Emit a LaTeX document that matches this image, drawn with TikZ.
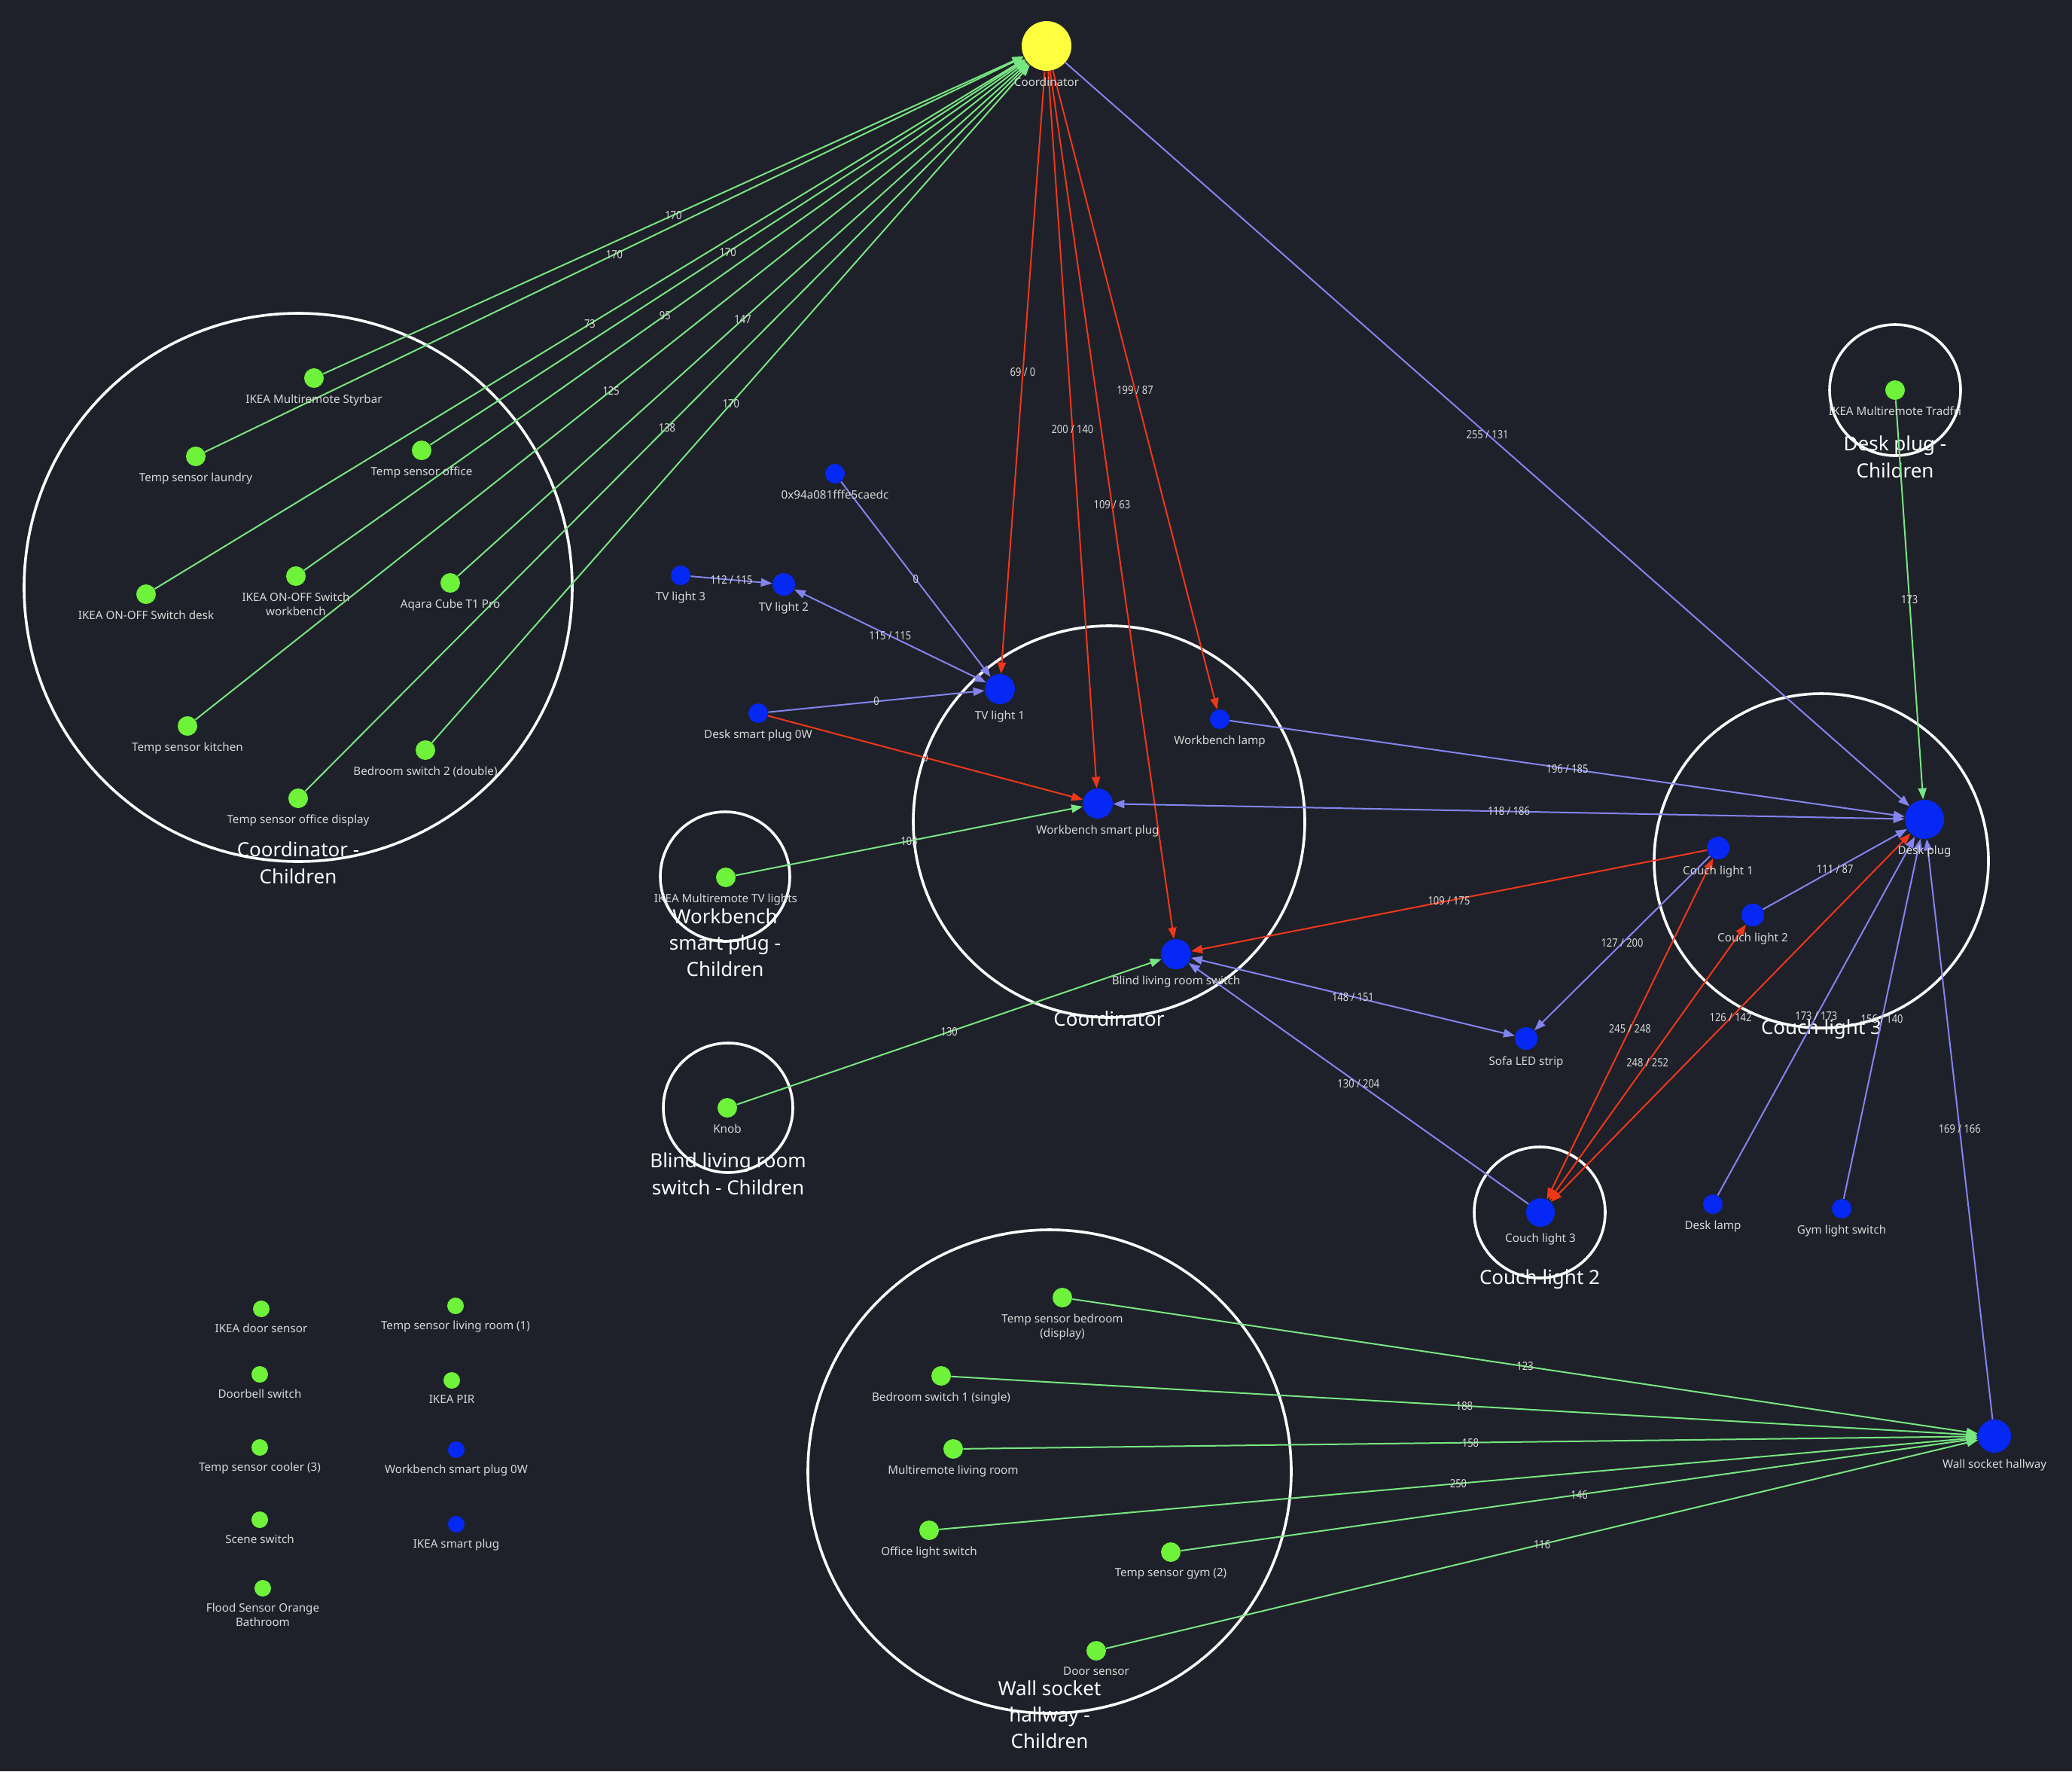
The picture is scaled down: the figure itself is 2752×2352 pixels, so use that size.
\documentclass[tikz,border=0pt]{standalone}
\usepackage{fontspec}
\setmainfont{Noto Sans}
\newfontfamily\narrowfamily[FakeStretch=0.85]{Noto Sans}
\usetikzlibrary{arrows.meta}

\definecolor{zbg}{HTML}{1E2129}
\definecolor{zgreen}{HTML}{6EF23A}
\definecolor{zblue}{HTML}{0528F5}
\definecolor{zyellow}{HTML}{FFFF40}
\definecolor{zgline}{HTML}{78E682}
\definecolor{zrline}{HTML}{F03719}
\definecolor{zbline}{HTML}{8484F0}
\definecolor{ztext}{HTML}{D8D8D8}

\newcommand\devfont{\fontsize{7.6}{9.6}\selectfont}
\newcommand\grpfont{\fontsize{13}{17.7}\selectfont}
\newcommand\lqifont{\narrowfamily\fontsize{7.6}{9}\selectfont}

\pgfdeclarelayer{back}
\pgfdeclarelayer{mid}
\pgfsetlayers{back,mid,main}

\begin{document}
\begin{tikzpicture}[x=0.5pt,y=-0.5pt,
	>={Triangle[length=7.5pt,width=5.5pt]},
	label distance=4pt,
	dev/.style={circle,inner sep=0,minimum size=13pt},
	gdev/.style={dev,fill=zgreen},
	bdev/.style={dev,fill=zblue},
	every label/.style={text=ztext,font=\devfont,inner sep=0,align=center},
	grp/.style={circle,draw=white,line width=1.8pt,inner sep=0},
	grplabel/.style={text=white,font=\grpfont,align=center,inner sep=0},
	gline/.style={draw=zgline,line width=1pt},
	rline/.style={draw=zrline,line width=1pt},
	bline/.style={draw=zbline,line width=1pt},
	lqi/.style={midway,text=ztext,font=\lqifont,inner sep=0}]
	
	\useasboundingbox (0,0) rectangle (2752,2352);
	
	% devices
	\node[circle,fill=zyellow,inner sep=0,minimum size=33pt,label=below:{Coordinator}] (coord) at (1390,61) {};
	
	\node[gdev,label=below:{IKEA Multiremote Styrbar}] (styrbar) at (417,502) {};
	\node[gdev,label=below:{Temp sensor laundry}] (tslaundry) at (260,606) {};
	\node[gdev,label=below:{Temp sensor office}] (tsoffice) at (560,598) {};
	\node[gdev,label=below:{IKEA ON-OFF Switch desk}] (swdesk) at (194,789) {};
	\node[gdev,label=below:{IKEA ON-OFF Switch\\workbench}] (swbench) at (393,765) {};
	\node[gdev,label=below:{Aqara Cube T1 Pro}] (aqara) at (598,774) {};
	\node[gdev,label=below:{Temp sensor kitchen}] (tskitchen) at (249,964) {};
	\node[gdev,label=below:{Bedroom switch 2 (double)}] (bedsw2) at (565,996) {};
	\node[gdev,label=below:{Temp sensor office display}] (tsofficedisp) at (396,1060) {};
	
	\node[bdev,label=below:{0x94a081fffe5caedc}] (unknown) at (1109,629) {};
	\node[bdev,label=below:{TV light 3}] (tv3) at (904,764) {};
	\node[bdev,minimum size=15pt,label=below:{TV light 2}] (tv2) at (1041,776) {};
	\node[bdev,minimum size=20pt,label=below:{TV light 1}] (tv1) at (1328,915) {};
	\node[bdev,label=below:{Desk smart plug 0W}] (dsp0w) at (1007,947) {};
	\node[bdev,label=below:{Workbench lamp}] (wblamp) at (1620,955) {};
	\node[bdev,minimum size=20pt,label=below:{Workbench smart plug}] (wbplug) at (1458,1067) {};
	\node[bdev,minimum size=20pt,label=below:{Blind living room switch}] (blind) at (1562,1267) {};
	\node[gdev,label=below:{IKEA Multiremote TV lights}] (tvremote) at (964,1165) {};
	\node[gdev,label=below:{Knob}] (knob) at (966,1471) {};
	\node[bdev,minimum size=15pt,label=below:{Sofa LED strip}] (sofa) at (2027,1379) {};
	
	\node[gdev,label=below:{IKEA Multiremote Tradfri}] (tradfri) at (2517,518) {};
	\node[bdev,minimum size=26pt,label=below:{Desk plug}] (deskplug) at (2556,1088) {};
	\node[bdev,minimum size=15pt,label=below:{Couch light 1}] (couch1) at (2282,1126) {};
	\node[bdev,minimum size=15pt,label=below:{Couch light 2}] (couch2) at (2328,1215) {};
	\node[bdev,minimum size=19pt,label=below:{Couch light 3}] (couch3) at (2046,1610) {};
	\node[bdev,label=below:{Desk lamp}] (desklamp) at (2275,1599) {};
	\node[bdev,label=below:{Gym light switch}] (gymsw) at (2446,1605) {};
	\node[bdev,minimum size=22pt,label=below:{Wall socket hallway}] (wallsocket) at (2649,1907) {};
	
	\node[gdev,label=below:{Temp sensor bedroom\\(display)}] (tsbedroom) at (1411,1723) {};
	\node[gdev,label=below:{Bedroom switch 1 (single)}] (bedsw1) at (1250,1827) {};
	\node[gdev,label=below:{Multiremote living room}] (mrliving) at (1266,1924) {};
	\node[gdev,label=below:{Office light switch}] (officesw) at (1234,2032) {};
	\node[gdev,label=below:{Temp sensor gym (2)}] (tsgym) at (1555,2061) {};
	\node[gdev,label=below:{Door sensor}] (doorsensor) at (1456,2192) {};
	
	% not connected
	\node[gdev,minimum size=11pt,label=below:{IKEA door sensor}] (ikeadoor) at (347,1738) {};
	\node[gdev,minimum size=11pt,label=below:{Doorbell switch}] (doorbell) at (345,1825) {};
	\node[gdev,minimum size=11pt,label=below:{Temp sensor cooler (3)}] (tscooler) at (345,1922) {};
	\node[gdev,minimum size=11pt,label=below:{Scene switch}] (scenesw) at (345,2018) {};
	\node[gdev,minimum size=11pt,label=below:{Flood Sensor Orange\\Bathroom}] (flood) at (349,2109) {};
	\node[gdev,minimum size=11pt,label=below:{Temp sensor living room (1)}] (tsliving) at (605,1734) {};
	\node[gdev,minimum size=11pt,label=below:{IKEA PIR}] (ikeapir) at (600,1833) {};
	\node[bdev,minimum size=11pt,label=below:{Workbench smart plug 0W}] (wbplug0w) at (606,1925) {};
	\node[bdev,minimum size=11pt,label=below:{IKEA smart plug}] (ikeaplug) at (606,2024) {};
	
	% groups
	\begin{pgfonlayer}{back}
		\fill[zbg] (0,0) rectangle (2752,2352);
		\node[grp,minimum size=364pt] (gcoordkids) at (396,780) {};
		\node[grp,minimum size=260pt] (gcoord) at (1473,1091) {};
		\node[grp,minimum size=86pt] (gwbplug) at (963,1164) {};
		\node[grp,minimum size=86pt] (gblind) at (967,1471) {};
		\node[grp,minimum size=87pt] (gdeskplug) at (2517,518) {};
		\node[grp,minimum size=222pt] (gcouch3) at (2419,1143) {};
		\node[grp,minimum size=87pt] (gcouch2) at (2045,1610) {};
		\node[grp,minimum size=321pt] (gwallsocket) at (1394,1954) {};
		\node[grplabel] (gcoordkidslbl) at (gcoordkids.south) {Coordinator -\\Children};
		\node[grplabel] (gcoordlbl) at (gcoord.south) {Coordinator};
		\node[grplabel] (gwbpluglbl) at (gwbplug.south) {Workbench\\smart plug -\\Children};
		\node[grplabel] (gblindlbl) at (gblind.south) {Blind living room\\switch - Children};
		\node[grplabel] (gdeskpluglbl) at (gdeskplug.south) {Desk plug -\\Children};
		\node[grplabel] (gcouch3lbl) at (gcouch3.south) {Couch light 3};
		\node[grplabel] (gcouch2lbl) at (gcouch2.south) {Couch light 2};
		\node[grplabel] (gwallsocketlbl) at (gwallsocket.south) {Wall socket\\hallway -\\Children};
	\end{pgfonlayer}
	
	% links
	\begin{pgfonlayer}{mid}
		\draw[gline,->] (styrbar) -- node[lqi]{170} (coord);
		\draw[gline,->] (tslaundry) -- node[lqi]{170} (coord);
		\draw[gline,->] (tsoffice) -- node[lqi]{170} (coord);
		\draw[gline,->] (swdesk) -- node[lqi]{73} (coord);
		\draw[gline,->] (swbench) -- node[lqi]{95} (coord);
		\draw[gline,->] (aqara) -- node[lqi]{147} (coord);
		\draw[gline,->] (tskitchen) -- node[lqi]{125} (coord);
		\draw[gline,->] (tsofficedisp) -- node[lqi]{138} (coord);
		\draw[gline,->] (bedsw2) -- node[lqi]{170} (coord);
		
		\draw[rline,->] (coord) -- node[lqi]{69 / 0} (tv1);
		\draw[rline,->] (coord) -- node[lqi]{200 / 140} (wbplug);
		\draw[rline,->] (coord) -- node[lqi]{109 / 63} (blind);
		\draw[rline,->] (coord) -- node[lqi]{199 / 87} (wblamp);
		\draw[bline,->] (coord) -- node[lqi]{255 / 131} (deskplug);
		
		\draw[bline,->] (tv3) -- node[lqi]{112 / 115} (tv2);
		\draw[bline,<->] (tv2) -- node[lqi]{115 / 115} (tv1);
		\draw[bline,->] (unknown) -- node[lqi]{0} (tv1);
		\draw[bline,->] (dsp0w) -- node[lqi]{0} (tv1);
		\draw[rline,->] (dsp0w) -- node[lqi]{0} (wbplug);
		\draw[gline,->] (tvremote) -- node[lqi]{103} (wbplug);
		\draw[gline,->] (knob) -- node[lqi]{130} (blind);
		
		\draw[bline,->] (wblamp) -- node[lqi]{196 / 185} (deskplug);
		\draw[bline,<->] (deskplug) -- node[lqi]{118 / 186} (wbplug);
		\draw[rline,->] (couch1) -- node[lqi]{109 / 175} (blind);
		\draw[bline,->] (couch1) -- node[lqi]{127 / 200} (sofa);
		\draw[bline,<->] (blind) -- node[lqi]{148 / 151} (sofa);
		\draw[bline,->] (couch3) -- node[lqi]{130 / 204} (blind);
		\draw[rline,<->] (couch3) -- node[lqi]{245 / 248} (couch1);
		\draw[rline,<->] (couch3) -- node[lqi]{248 / 252} (couch2);
		\draw[rline,<->] (couch3) -- node[lqi]{126 / 142} (deskplug);
		\draw[bline,->] (couch2) -- node[lqi]{111 / 87} (deskplug);
		\draw[bline,->] (desklamp) -- node[lqi]{173 / 173} (deskplug);
		\draw[bline,->] (gymsw) -- node[lqi]{156 / 140} (deskplug);
		\draw[bline,->] (wallsocket) -- node[lqi]{169 / 166} (deskplug);
		\draw[gline,->] (tradfri) -- node[lqi]{173} (deskplug);
		
		\draw[gline,->] (tsbedroom) -- node[lqi]{123} (wallsocket);
		\draw[gline,->] (bedsw1) -- node[lqi]{188} (wallsocket);
		\draw[gline,->] (mrliving) -- node[lqi]{158} (wallsocket);
		\draw[gline,->] (officesw) -- node[lqi]{250} (wallsocket);
		\draw[gline,->] (tsgym) -- node[lqi]{146} (wallsocket);
		\draw[gline,->] (doorsensor) -- node[lqi]{116} (wallsocket);
	\end{pgfonlayer}
	
\end{tikzpicture}
\end{document}
